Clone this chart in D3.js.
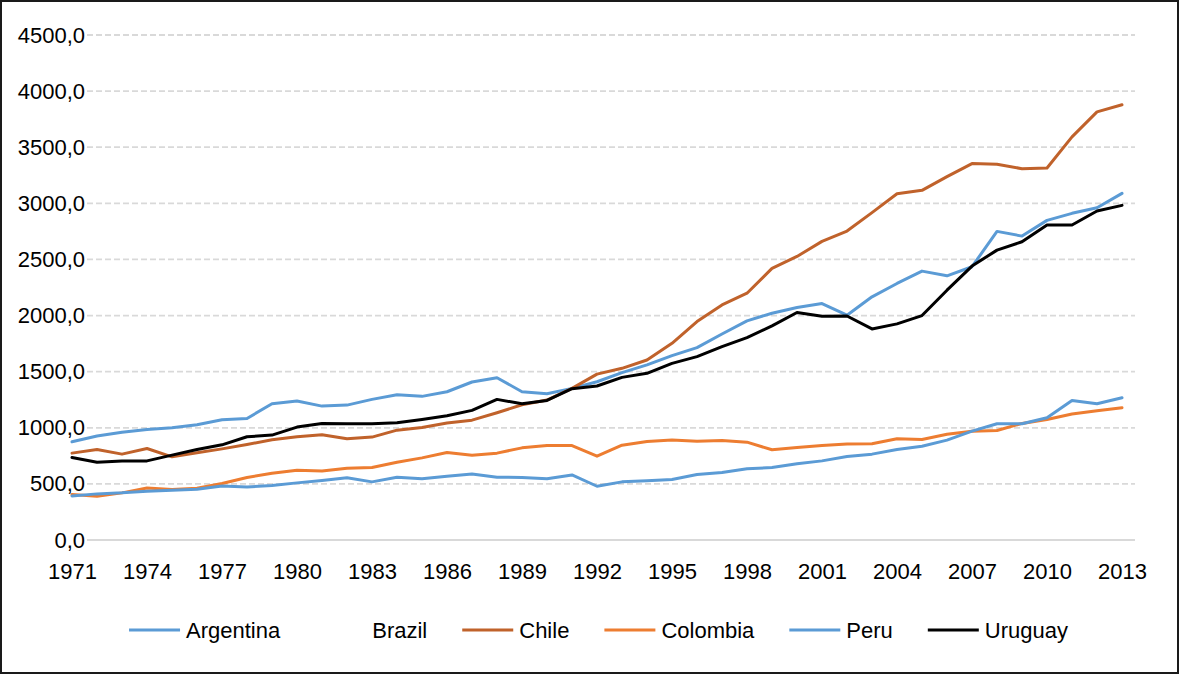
<!DOCTYPE html>
<html>
<head>
<meta charset="utf-8">
<script src="https://cdn.jsdelivr.net/npm/d3@7"></script>
<style>
  html, body { margin: 0; padding: 0; background: #fff; }
  svg { display: block; font-family: "Liberation Sans", Arial, sans-serif; }
</style>
</head>
<body>
<svg id="chart" width="1180" height="675"></svg>
<script>
// ---------- DATA ----------
const years = d3.range(1971, 2014);
const seriesNames = ["Argentina", "Brazil", "Chile", "Colombia", "Peru", "Uruguay"];
const seriesColors = ["#5B9BD5", "none", "#C0622B", "#ED7D31", "#5B9BD5", "#000000"];

const argentina = [875, 926, 961, 985, 1000, 1027, 1071, 1083, 1214, 1238, 1193, 1202, 1253, 1295, 1280, 1321, 1408, 1446, 1321, 1304, 1351, 1410, 1491, 1560, 1643, 1714, 1836, 1952, 2021, 2071, 2107, 2003, 2167, 2286, 2396, 2354, 2435, 2750, 2708, 2848, 2911, 2961, 3089];
const brazil = [];
const chile = [774, 807, 765, 815, 741, 777, 812, 851, 893, 920, 938, 902, 917, 979, 1003, 1042, 1068, 1134, 1205, 1247, 1351, 1478, 1530, 1604, 1753, 1946, 2095, 2199, 2420, 2527, 2661, 2753, 2917, 3086, 3116, 3238, 3354, 3348, 3309, 3315, 3592, 3815, 3878];
const colombia = [405, 390, 420, 464, 449, 461, 503, 557, 595, 622, 615, 640, 646, 693, 732, 780, 756, 774, 821, 842, 842, 747, 845, 878, 890, 881, 887, 872, 804, 824, 842, 856, 857, 902, 896, 943, 970, 976, 1039, 1074, 1122, 1152, 1179];
const peru = [393, 411, 420, 435, 443, 452, 482, 473, 485, 509, 531, 554, 518, 560, 545, 568, 589, 560, 557, 545, 580, 479, 518, 527, 539, 583, 601, 634, 646, 679, 705, 744, 765, 807, 836, 890, 970, 1036, 1036, 1089, 1244, 1214, 1268];
const uruguay = [735, 693, 705, 705, 756, 807, 848, 920, 935, 1006, 1039, 1036, 1036, 1045, 1074, 1107, 1155, 1253, 1214, 1244, 1348, 1372, 1449, 1485, 1574, 1634, 1723, 1804, 1908, 2027, 1994, 1996, 1881, 1926, 2000, 2226, 2441, 2583, 2658, 2807, 2807, 2932, 2982];

const yTicks = [0, 500, 1000, 1500, 2000, 2500, 3000, 3500, 4000, 4500];
const xTicks = d3.range(1971, 2014, 3);

const seriesValues = [argentina, brazil, chile, colombia, peru, uruguay];

// ---------- LAYOUT ----------
const svg = d3.select("#chart");
const W = 1180, H = 675;
const fontSize = 22;

// border
svg.append("rect")
  .attr("x", 1).attr("y", 1).attr("width", W - 3).attr("height", H - 3)
  .attr("fill", "#fff").attr("stroke", "#1a1a1a").attr("stroke-width", 2);

const x = d3.scaleLinear().domain([1971, 2013]).range([72, 1122]);
const y = d3.scaleLinear().domain([0, 4500]).range([540, 35]);
const gridLeft = 87, gridRight = 1135;

// gridlines
svg.append("g").selectAll("line")
  .data(yTicks.filter(d => d !== 0))
  .join("line")
  .attr("x1", gridLeft).attr("x2", gridRight)
  .attr("y1", d => y(d)).attr("y2", d => y(d))
  .attr("stroke", "#D9D9D9").attr("stroke-width", 1.8)
  .attr("stroke-dasharray", "6,3");

// zero axis line
svg.append("line")
  .attr("x1", gridLeft).attr("x2", gridRight)
  .attr("y1", y(0)).attr("y2", y(0))
  .attr("stroke", "#D9D9D9").attr("stroke-width", 2);

// y axis labels
const fmt = d => d3.format(".1f")(d).replace(".", ",");
const yAxis = svg.append("g")
  .attr("transform", `translate(${gridLeft},0)`)
  .call(d3.axisLeft(y).tickValues(yTicks).tickFormat(fmt).tickSize(0).tickPadding(2));
yAxis.select(".domain").remove();
yAxis.selectAll("text").attr("font-size", fontSize).attr("fill", "#000")
  .attr("font-family", "'Liberation Sans', Arial, sans-serif");

// x axis labels
const xAxis = svg.append("g")
  .attr("transform", `translate(0,${y(0)})`)
  .call(d3.axisBottom(x).tickValues(xTicks).tickFormat(d3.format("d")).tickSize(0).tickPadding(23));
xAxis.select(".domain").remove();
xAxis.selectAll("text").attr("font-size", fontSize).attr("fill", "#000")
  .attr("font-family", "'Liberation Sans', Arial, sans-serif");

// lines
const line = d3.line().x((d, i) => x(years[i])).y(d => y(d));
seriesValues.forEach((vals, i) => {
  if (!vals.length || seriesColors[i] === "none") return;
  svg.append("path")
    .datum(vals)
    .attr("d", line)
    .attr("fill", "none")
    .attr("stroke", seriesColors[i])
    .attr("stroke-width", 3)
    .attr("stroke-linejoin", "round")
    .attr("stroke-linecap", "round");
});

// legend
const legend = svg.append("g");
const swatchW = 51, gapText = 6, spacing = 35, legendY = 630;
const items = legend.selectAll("g.item").data(seriesNames).join("g").attr("class", "item");
items.append("line")
  .attr("x1", 0).attr("x2", swatchW).attr("y1", 0).attr("y2", 0)
  .attr("stroke", (d, i) => seriesColors[i] === "none" ? "none" : seriesColors[i])
  .attr("stroke-width", 3);
items.append("text")
  .attr("x", swatchW + gapText).attr("y", 0).attr("dy", "0.35em")
  .attr("font-size", fontSize).attr("fill", "#000")
  .text(d => d);
let cursor = 0;
const offsets = [];
items.each(function() {
  const tw = d3.select(this).select("text").node().getComputedTextLength();
  offsets.push(cursor);
  cursor += swatchW + gapText + tw + spacing;
});
const totalW = cursor - spacing;
const startX = 598.5 - totalW / 2;
items.attr("transform", (d, i) => `translate(${startX + offsets[i]},${legendY})`);
</script>
</body>
</html>
